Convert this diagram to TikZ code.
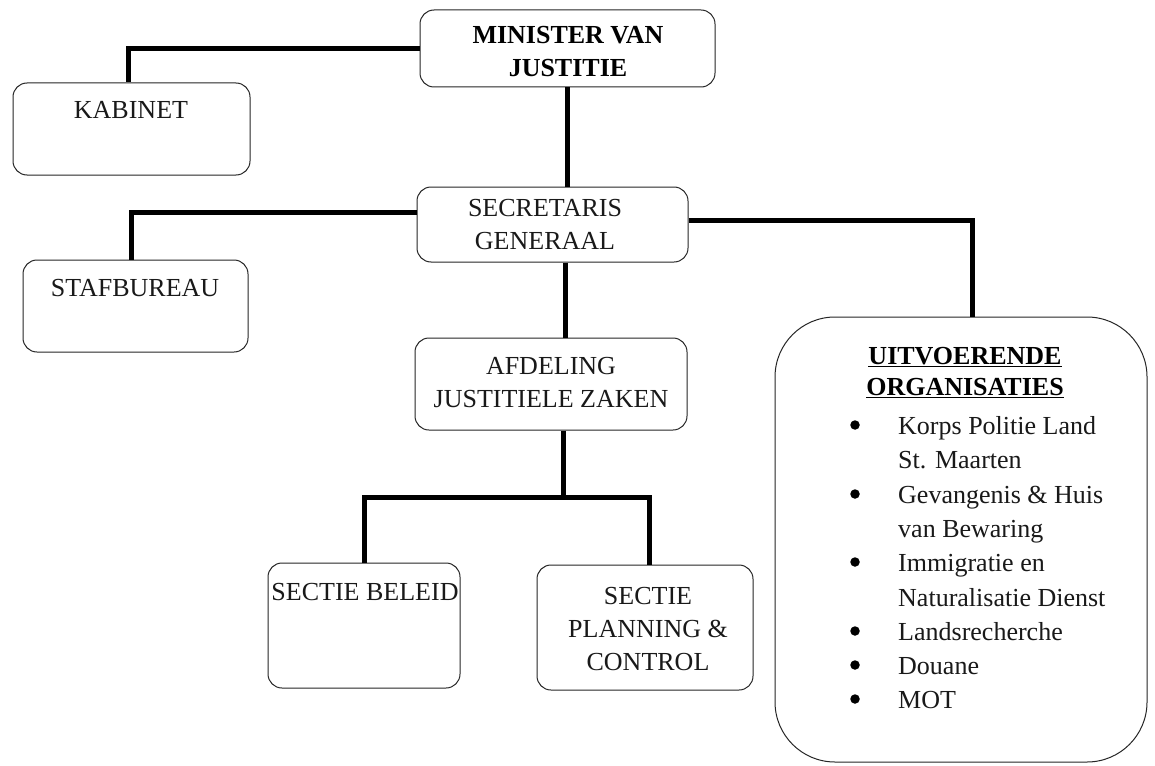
\documentclass[tikz,border=0pt]{standalone}
\usepackage{fontspec}
\setmainfont{Liberation Serif}
\begin{document}
\begin{tikzpicture}[x=1pt,y=-1pt,
  box/.style={draw=black!85,line width=1pt,rounded corners=14pt,inner sep=0pt},
  conn/.style={line width=5pt,draw=black},
  lbl/.style={font=\fontsize{26}{33}\selectfont,align=center,inner sep=0pt,text=black!90},
  blbl/.style={font=\fontsize{26}{33}\selectfont\bfseries,align=center,inner sep=0pt},
  item/.style={font=\fontsize{26}{33}\selectfont,anchor=base west,inner sep=0pt,text=black!90},
  bul/.style={circle,fill=black,inner sep=0pt,minimum size=9.5pt}]
\useasboundingbox (0,0) rectangle (1155,765);
\fill[white] (0,0) rectangle (1155,765);

% boxes
\node[box,minimum width=295pt,minimum height=77pt] (min) at (567.5,48.5) {};
\node[box,minimum width=237pt,minimum height=92pt] (kab) at (131.5,129) {};
\node[box,minimum width=271pt,minimum height=75pt] (sec) at (552.5,224.5) {};
\node[box,minimum width=225pt,minimum height=92pt] (staf) at (135.5,306) {};
\node[box,minimum width=272pt,minimum height=92pt] (afd) at (551,384) {};
\node[box,minimum width=192pt,minimum height=125pt] (bel) at (364,625.5) {};
\node[box,minimum width=216pt,minimum height=125pt] (plan) at (645,627.5) {};
\node[box,rounded corners=60pt,minimum width=372pt,minimum height=445pt] (uitv) at (961,539.5) {};

% connectors
\draw[conn] (min.west) -| ([xshift=-3pt]kab.north);
\draw[conn] (min.south) -- (min.south |- sec.north);
\draw[conn] ([yshift=12.5pt]sec.west) -| ([xshift=-4.5pt]staf.north);
\draw[conn] ([yshift=4.5pt]sec.east) -| ([xshift=11pt]uitv.north);
\coordinate (s1) at ([xshift=12.5pt]sec.south);
\draw[conn] (s1) -- (s1 |- afd.north);
\coordinate (a1) at ([xshift=12pt]afd.south);
\coordinate (j) at (a1 |- 0,497);
\draw[conn] (a1) -- (j);
\draw[conn] (bel.north) |- (j) -| ([xshift=4pt]plan.north);

% texts
\node[blbl] (tmin) at (568,51.5) {MINISTER VAN\\JUSTITIE};
\node[lbl] (tkab) at (131,110) {KABINET};
\node[lbl] (tsec) at (545,224.5) {SECRETARIS\\GENERAAL};
\node[lbl] (tstaf) at (135,288) {STAFBUREAU};
\node[lbl] (tafd) at (551,382.5) {AFDELING\\JUSTITIELE ZAKEN};
\node[lbl] (tbel) at (365,592) {SECTIE BELEID};
\node[lbl] (tplan) at (648,629) {SECTIE\\PLANNING \&\\CONTROL};

\node[font=\fontsize{26}{31}\selectfont\bfseries,align=center,inner sep=0pt] (thead) at (965,372.5) {\underline{UITVOERENDE}\\\underline{ORGANISATIES}};

\node[bul] (b1) at (855,425) {};
\node[item] (i1) at (898,434) {Korps Politie Land};
\node[item] (i1b) at (898,468) {St. Maarten};
\node[bul] (b2) at (855,494) {};
\node[item] (i2) at (898,503) {Gevangenis \& Huis};
\node[item] (i2b) at (898,537) {van Bewaring};
\node[bul] (b3) at (855,562) {};
\node[item] (i3) at (898,571) {Immigratie en};
\node[item] (i3b) at (898,606) {Naturalisatie Dienst};
\node[bul] (b4) at (855,631) {};
\node[item] (i4) at (898,640) {Landsrecherche};
\node[bul] (b5) at (855,665) {};
\node[item] (i5) at (898,674) {Douane};
\node[bul] (b6) at (855,699) {};
\node[item] (i6) at (898,708) {MOT};
\end{tikzpicture}
\end{document}
